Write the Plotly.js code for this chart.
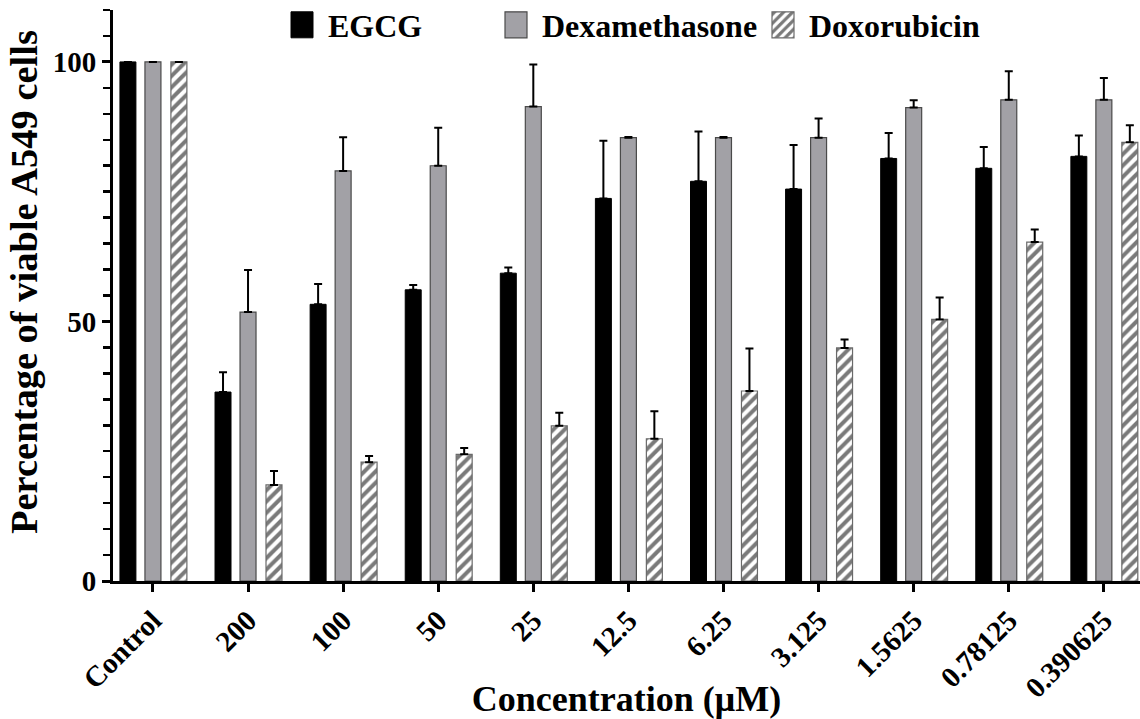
<!DOCTYPE html>
<html>
<head>
<meta charset="utf-8">
<script src="https://cdn.plot.ly/plotly-3.0.1.min.js"></script>
<style>
html,body{margin:0;padding:0;background:#fff;}
#chart{width:1140px;height:719px;}
</style>
</head>
<body>
<div id="chart"></div>
<script>
const categories = ["Control","200","100","50","25","12.5","6.25","3.125","1.5625","0.78125","0.390625"];

const egcgMean = [100, 36.4, 53.3, 56.1, 59.3, 73.7, 77.0, 75.5, 81.4, 79.5, 81.8];
const egcgErr  = [0, 3.8, 3.9, 0.9, 1.1, 11.1, 9.6, 8.5, 4.9, 4.1, 4.0];

const dexaMean = [100, 51.8, 79.0, 80.0, 91.4, 85.4, 85.4, 85.4, 91.2, 92.7, 92.7];
const dexaErr  = [0, 8.1, 6.5, 7.3, 8.1, 0.15, 0.15, 3.7, 1.4, 5.5, 4.2];

const doxoMean = [100, 18.5, 22.9, 24.4, 29.9, 27.4, 36.6, 44.9, 50.4, 65.3, 84.5];
const doxoErr  = [0, 2.7, 1.2, 1.2, 2.5, 5.3, 8.2, 1.6, 4.2, 2.4, 3.3];

const seriesNames = ["EGCG", "Dexamethasone", "Doxorubicin"];
const yTickVals = [0, 50, 100];
const yTitle = "Percentage of viable A549 cells";
const xTitle = "Concentration (μM)";

const FONT = "Liberation Serif, Times New Roman, serif";
const zeros = categories.map(() => 0);

function errBar(arr){
  return {type:'data', symmetric:false, array:arr, arrayminus:zeros,
          color:'#000', thickness:2, width:4, visible:true};
}

const traces = [
  {
    type:'bar', name:seriesNames[0], x:categories, y:egcgMean,
    width:0.168, offset:-0.347,
    marker:{color:'#000000', line:{color:'#000000', width:1}},
    error_y:errBar(egcgErr), legend:'legend'
  },
  {
    type:'bar', name:seriesNames[1], x:categories, y:dexaMean,
    width:0.168, offset:-0.084,
    marker:{color:'#a2a1a6', line:{color:'#4a4a4a', width:1.2}},
    error_y:errBar(dexaErr), legend:'legend2'
  },
  {
    type:'bar', name:seriesNames[2], x:categories, y:doxoMean,
    width:0.168, offset:0.189,
    marker:{color:'#ffffff', line:{color:'#6a6a6a', width:1.2},
            pattern:{shape:'/', fgcolor:'#7a7a7a', bgcolor:'#ffffff', size:8, solidity:0.5, fillmode:'replace'}},
    error_y:errBar(doxoErr), legend:'legend3'
  }
];

function leg(xpx){
  return {x:xpx/1140, xref:'container', xanchor:'left',
          y:1-25/719, yref:'container', yanchor:'middle',
          orientation:'h', bgcolor:'rgba(0,0,0,0)', borderwidth:0,
          font:{family:FONT, size:32, color:'#000', weight:'bold'}};
}

const layout = {
  width:1140, height:719,
  margin:{l:113, r:0, t:10, b:138, pad:0, autoexpand:false},
  paper_bgcolor:'#ffffff', plot_bgcolor:'#ffffff',
  barmode:'overlay',
  showlegend:true,
  legend:leg(288), legend2:leg(502), legend3:leg(769),
  font:{family:FONT, color:'#000'},
  xaxis:{
    type:'category', categoryorder:'array', categoryarray:categories,
    range:[-0.42, 10.38],
    showline:true, linecolor:'#000', linewidth:3, mirror:false,
    ticks:'outside', ticklen:8, tickwidth:3, tickcolor:'#000',
    tickangle:-45, showgrid:false, zeroline:false, automargin:false,
    tickfont:{family:FONT, size:29, color:'#000', weight:'bold'},
    title:{text:xTitle, font:{family:FONT, size:36, color:'#000', weight:'bold'}, standoff:0}
  },
  yaxis:{
    range:[0,110], tickvals:yTickVals, ticktext:yTickVals.map(String),
    showline:true, linecolor:'#000', linewidth:3, automargin:false,
    ticks:'outside', ticklen:8, tickwidth:3, tickcolor:'#000',
    minor:{dtick:5, tick0:0, ticks:'outside', ticklen:7, tickwidth:2.5, tickcolor:'#000', showgrid:false},
    showgrid:false, zeroline:false,
    tickfont:{family:FONT, size:29, color:'#000', weight:'bold'}
  },
  annotations:[{
    text:yTitle, textangle:-90, showarrow:false,
    xref:'paper', yref:'paper', x:(24-113)/1027, y:(581-282)/571,
    xanchor:'center', yanchor:'middle',
    font:{family:FONT, size:38.5, color:'#000', weight:'bold'}
  }]
};

Plotly.newPlot('chart', traces, layout, {displayModeBar:false, staticPlot:true}).then(gd => {
  gd.querySelectorAll('.legendpoints path').forEach(p => {
    p.setAttribute('d', 'M5,13H-17V-13H5Z');
  });
});
</script>
</body>
</html>
